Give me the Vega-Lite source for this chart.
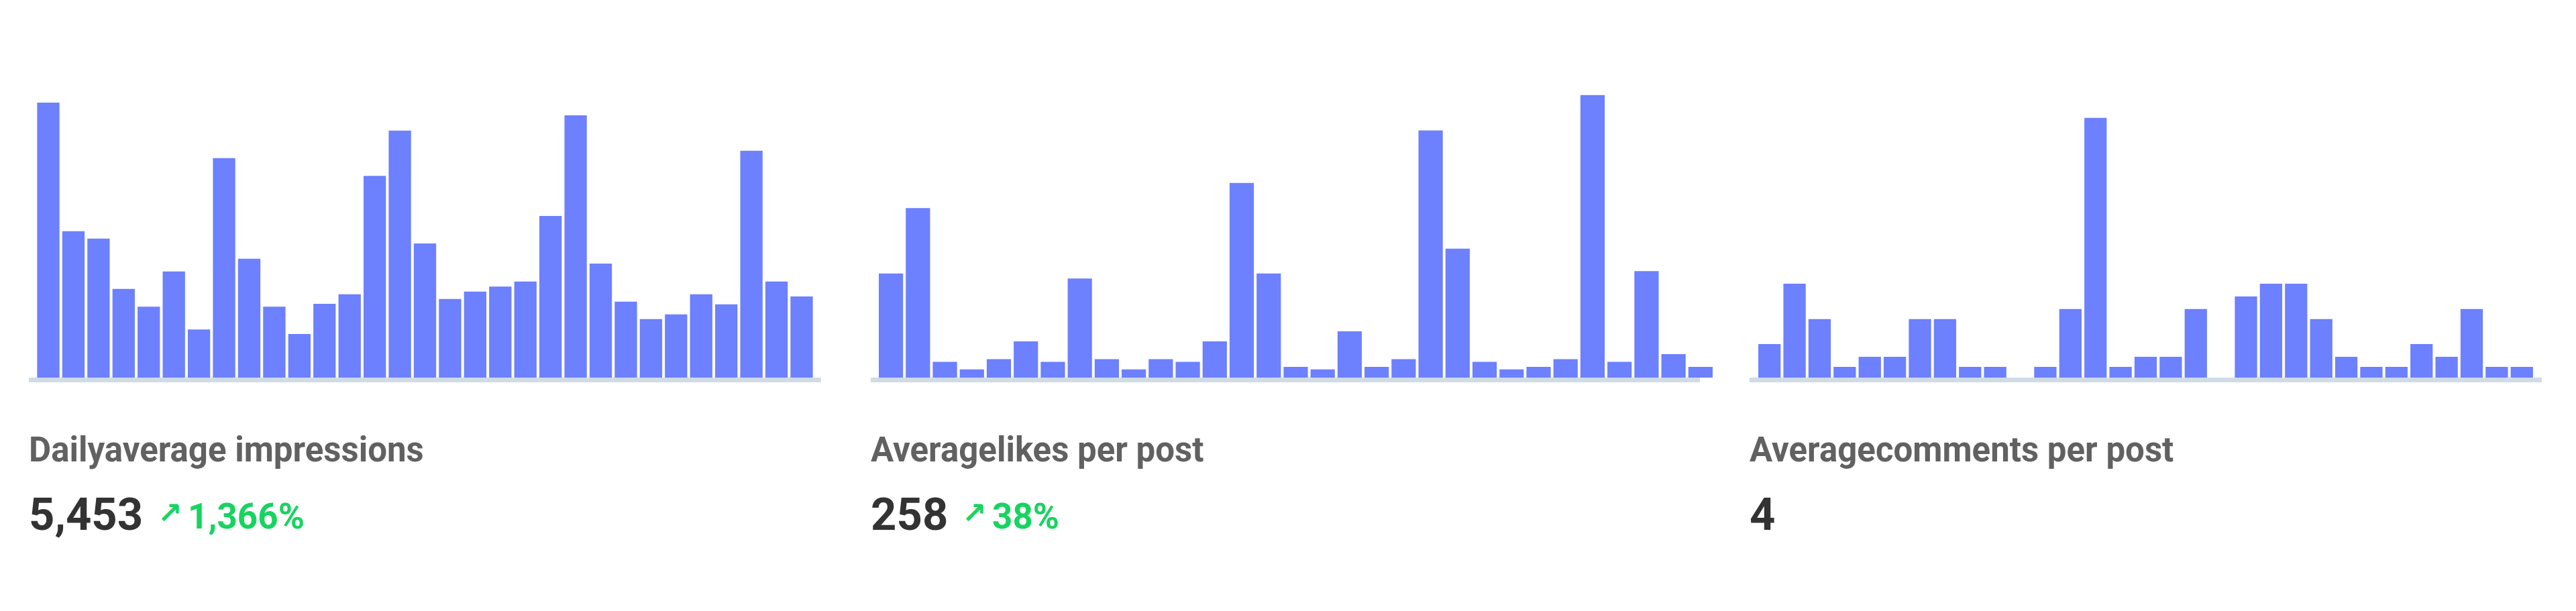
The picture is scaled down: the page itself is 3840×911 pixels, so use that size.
{
  "$schema": "https://vega.github.io/schema/vega-lite/v6.json",
  "background": "white",
  "padding": {"left": 43, "top": 117, "right": 0, "bottom": 30},
  "config": {"view": {"stroke": null}, "font": "Roboto"},
  "columns": 3,
  "spacing": {"row": 125, "column": 74},
  "bounds": "flush",
  "concat": [
    {
      "width": 1181,
      "height": 446,
      "data": {"values": [
        {"day": 1, "value": 12509}, {"day": 2, "value": 6661}, {"day": 3, "value": 6326}, {"day": 4, "value": 4037},
        {"day": 5, "value": 3224}, {"day": 6, "value": 4831}, {"day": 7, "value": 2187}, {"day": 8, "value": 9987},
        {"day": 9, "value": 5410}, {"day": 10, "value": 3224}, {"day": 11, "value": 1983}, {"day": 12, "value": 3356},
        {"day": 13, "value": 3793}, {"day": 14, "value": 9173}, {"day": 15, "value": 11238}, {"day": 16, "value": 6102},
        {"day": 17, "value": 3580}, {"day": 18, "value": 3915}, {"day": 19, "value": 4139}, {"day": 20, "value": 4373},
        {"day": 21, "value": 7353}, {"day": 22, "value": 11929}, {"day": 23, "value": 5187}, {"day": 24, "value": 3458},
        {"day": 25, "value": 2665}, {"day": 26, "value": 2878}, {"day": 27, "value": 3793}, {"day": 28, "value": 3336},
        {"day": 29, "value": 10323}, {"day": 30, "value": 4373}, {"day": 31, "value": 3692}
      ]},
      "layer": [
        {
          "mark": {"type": "bar", "color": "#6d80fe"},
          "encoding": {
            "x": {"field": "day", "type": "ordinal", "axis": null, "scale": {"paddingInner": 0.11, "paddingOuter": 0.33}},
            "y": {"field": "value", "type": "quantitative", "axis": null, "scale": {"domain": [0, 13607], "nice": false}}
          }
        },
        {
          "data": {"values": [{}]},
          "mark": {"type": "rect", "color": "#cfdbe5", "y2Offset": 7},
          "encoding": {"y": {"datum": 0, "type": "quantitative"}, "y2": {"datum": 0}}
        }
      ]
    },
    {
      "width": 1236,
      "height": 446,
      "data": {"values": [
        {"day": 1, "value": 456}, {"day": 2, "value": 743}, {"day": 3, "value": 69}, {"day": 4, "value": 36},
        {"day": 5, "value": 81}, {"day": 6, "value": 159}, {"day": 7, "value": 69}, {"day": 8, "value": 434},
        {"day": 9, "value": 81}, {"day": 10, "value": 36}, {"day": 11, "value": 81}, {"day": 12, "value": 69},
        {"day": 13, "value": 159}, {"day": 14, "value": 853}, {"day": 15, "value": 456}, {"day": 16, "value": 47},
        {"day": 17, "value": 36}, {"day": 18, "value": 203}, {"day": 19, "value": 47}, {"day": 20, "value": 81},
        {"day": 21, "value": 1083}, {"day": 22, "value": 565}, {"day": 23, "value": 69}, {"day": 24, "value": 36},
        {"day": 25, "value": 47}, {"day": 26, "value": 81}, {"day": 27, "value": 1238}, {"day": 28, "value": 69},
        {"day": 29, "value": 467}, {"day": 30, "value": 103}, {"day": 31, "value": 47}
      ]},
      "layer": [
        {
          "mark": {"type": "bar", "color": "#6d80fe"},
          "encoding": {
            "x": {"field": "day", "type": "ordinal", "axis": null, "scale": {"range": [12, 1255], "paddingInner": 0.1, "paddingOuter": 0}},
            "y": {"field": "value", "type": "quantitative", "axis": null, "scale": {"domain": [0, 1311], "nice": false}}
          }
        },
        {
          "data": {"values": [{}]},
          "mark": {"type": "rect", "color": "#cfdbe5", "y2Offset": 7},
          "encoding": {"y": {"datum": 0, "type": "quantitative"}, "y2": {"datum": 0}}
        }
      ]
    },
    {
      "width": 1181,
      "height": 446,
      "data": {"values": [
        {"day": 1, "value": 3.08}, {"day": 2, "value": 8.62}, {"day": 3, "value": 5.37}, {"day": 4, "value": 0.98},
        {"day": 5, "value": 1.91}, {"day": 6, "value": 1.91}, {"day": 7, "value": 5.37}, {"day": 8, "value": 5.37},
        {"day": 9, "value": 0.98}, {"day": 10, "value": 0.98}, {"day": 11, "value": 0}, {"day": 12, "value": 0.98},
        {"day": 13, "value": 6.3}, {"day": 14, "value": 23.84}, {"day": 15, "value": 0.98}, {"day": 16, "value": 1.91},
        {"day": 17, "value": 1.91}, {"day": 18, "value": 6.3}, {"day": 19, "value": 0}, {"day": 20, "value": 7.45},
        {"day": 21, "value": 8.62}, {"day": 22, "value": 8.62}, {"day": 23, "value": 5.37}, {"day": 24, "value": 1.91},
        {"day": 25, "value": 0.98}, {"day": 26, "value": 0.98}, {"day": 27, "value": 3.08}, {"day": 28, "value": 1.91},
        {"day": 29, "value": 6.3}, {"day": 30, "value": 0.98}, {"day": 31, "value": 0.98}
      ]},
      "layer": [
        {
          "mark": {"type": "bar", "color": "#6d80fe"},
          "encoding": {
            "x": {"field": "day", "type": "ordinal", "axis": null, "scale": {"paddingInner": 0.11, "paddingOuter": 0.35}},
            "y": {"field": "value", "type": "quantitative", "axis": null, "scale": {"domain": [0, 27.45], "nice": false}}
          }
        },
        {
          "data": {"values": [{}]},
          "mark": {"type": "rect", "color": "#cfdbe5", "y2Offset": 7},
          "encoding": {"y": {"datum": 0, "type": "quantitative"}, "y2": {"datum": 0}}
        }
      ]
    },
    {
      "width": 1181,
      "height": 102,
      "data": {"values": [
        {"part": "label", "row": "label", "text": "Dailyaverage impressions"},
        {"part": "value", "row": "value", "text": "5,453"},
        {"part": "arrow", "row": "value", "text": "↗"},
        {"part": "change", "row": "value", "text": "1,366%"}
      ]},
      "encoding": {
        "x": {"datum": 0, "type": "quantitative", "scale": {"domain": [0, 1]}, "axis": null},
        "y": {"field": "row", "type": "nominal", "scale": {"domain": ["label", "value"], "padding": 0}, "axis": null},
        "text": {"field": "text"}
      },
      "layer": [
        {"transform": [{"filter": "datum.part === 'label'"}], "mark": {"type": "text", "align": "left", "baseline": "alphabetic", "font": "Roboto", "fontSize": 51, "fontWeight": "bold", "color": "#616161"}},
        {"transform": [{"filter": "datum.part === 'value'"}], "mark": {"type": "text", "align": "left", "baseline": "alphabetic", "font": "Roboto", "fontSize": 67, "fontWeight": "bold", "color": "#333333"}},
        {"transform": [{"filter": "datum.part === 'arrow'"}], "mark": {"type": "text", "align": "left", "baseline": "alphabetic", "font": "DejaVu Sans", "fontSize": 44, "fontWeight": "bold", "color": "#17d460", "dx": 192, "dy": -10}},
        {"transform": [{"filter": "datum.part === 'change'"}], "mark": {"type": "text", "align": "left", "baseline": "alphabetic", "font": "Roboto", "fontSize": 53, "fontWeight": "bold", "color": "#17d460", "dx": 237, "dy": -2}}
      ]
    },
    {
      "width": 1236,
      "height": 102,
      "data": {"values": [
        {"part": "label", "row": "label", "text": "Averagelikes per post"},
        {"part": "value", "row": "value", "text": "258"},
        {"part": "arrow", "row": "value", "text": "↗"},
        {"part": "change", "row": "value", "text": "38%"}
      ]},
      "encoding": {
        "x": {"datum": 0, "type": "quantitative", "scale": {"domain": [0, 1]}, "axis": null},
        "y": {"field": "row", "type": "nominal", "scale": {"domain": ["label", "value"], "padding": 0}, "axis": null},
        "text": {"field": "text"}
      },
      "layer": [
        {"transform": [{"filter": "datum.part === 'label'"}], "mark": {"type": "text", "align": "left", "baseline": "alphabetic", "font": "Roboto", "fontSize": 51, "fontWeight": "bold", "color": "#616161"}},
        {"transform": [{"filter": "datum.part === 'value'"}], "mark": {"type": "text", "align": "left", "baseline": "alphabetic", "font": "Roboto", "fontSize": 67, "fontWeight": "bold", "color": "#333333"}},
        {"transform": [{"filter": "datum.part === 'arrow'"}], "mark": {"type": "text", "align": "left", "baseline": "alphabetic", "font": "DejaVu Sans", "fontSize": 44, "fontWeight": "bold", "color": "#17d460", "dx": 136, "dy": -10}},
        {"transform": [{"filter": "datum.part === 'change'"}], "mark": {"type": "text", "align": "left", "baseline": "alphabetic", "font": "Roboto", "fontSize": 53, "fontWeight": "bold", "color": "#17d460", "dx": 181, "dy": -2}}
      ]
    },
    {
      "width": 1181,
      "height": 102,
      "data": {"values": [
        {"part": "label", "row": "label", "text": "Averagecomments per post"},
        {"part": "value", "row": "value", "text": "4"}
      ]},
      "encoding": {
        "x": {"datum": 0, "type": "quantitative", "scale": {"domain": [0, 1]}, "axis": null},
        "y": {"field": "row", "type": "nominal", "scale": {"domain": ["label", "value"], "padding": 0}, "axis": null},
        "text": {"field": "text"}
      },
      "layer": [
        {"transform": [{"filter": "datum.part === 'label'"}], "mark": {"type": "text", "align": "left", "baseline": "alphabetic", "font": "Roboto", "fontSize": 51, "fontWeight": "bold", "color": "#616161"}},
        {"transform": [{"filter": "datum.part === 'value'"}], "mark": {"type": "text", "align": "left", "baseline": "alphabetic", "font": "Roboto", "fontSize": 67, "fontWeight": "bold", "color": "#333333"}}
      ]
    }
  ]
}
